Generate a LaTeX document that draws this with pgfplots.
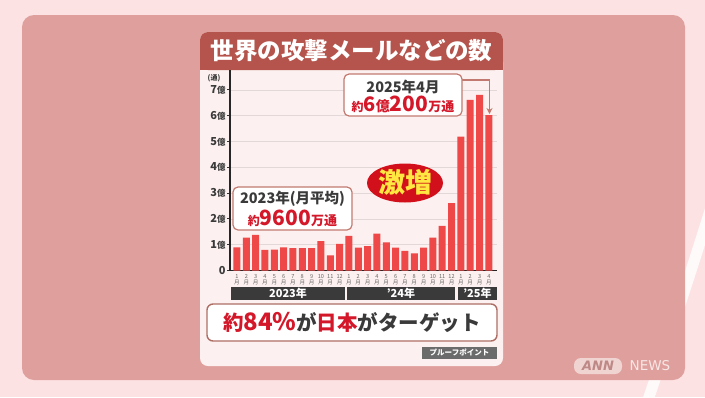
\documentclass[border=0pt]{standalone}
\usepackage{fontspec}
\setmainfont{Noto Sans CJK JP}
\newfontfamily\annfont{DejaVu Sans}
\usepackage{pgfplots}
\pgfplotsset{compat=1.18}
\usetikzlibrary{arrows.meta}
\definecolor{bgpink}{HTML}{FDE2E3}
\definecolor{panel}{HTML}{DFA09D}
\definecolor{card}{HTML}{FCF1F0}
\definecolor{banner}{HTML}{B5544C}
\definecolor{barred}{HTML}{EE4848}
\definecolor{txtred}{HTML}{D4182A}
\definecolor{dark}{HTML}{3A3A3A}
\definecolor{boxline}{HTML}{C27A70}
\definecolor{ellred}{HTML}{D2101C}
\definecolor{yel}{HTML}{FFE640}
\definecolor{gridc}{HTML}{E2D8D7}
\newcommand{\fs}[1]{\fontsize{#1}{#1}\selectfont}
\newcommand{\yl}[1]{\mbox{\bfseries\fs{11}#1{\fs{8.5}億}}}
\begin{document}
\begin{tikzpicture}
\begin{scope}[x=1pt,y=-1pt]
\path[use as bounding box] (0,0) rectangle (705,397);
\fill[bgpink] (0,0) rectangle (705,397);
\draw[white, line width=11pt, opacity=0.85] (715,195) .. controls (685,290) .. (648,400);
\fill[panel, rounded corners=12pt] (22,15) rectangle (685,380);
\fill[card, rounded corners=8pt] (200,32) rectangle (503,366);
\fill[banner, rounded corners=8pt] (200,32) rectangle (503,70);
\fill[banner] (200,55) rectangle (503,70);
\node[white, font=\bfseries\fs{23.5}] at (351.5,51) {世界の攻撃メールなどの数};
\node[dark, font=\bfseries\fs{7}] at (214,78) {(通)};
\end{scope}
\begin{axis}[
  at={(230pt,-270.5pt)}, anchor=south west,
  scale only axis, width=267pt, height=200.5pt,
  xmin=-0.75, xmax=27.87, ymin=0, ymax=7.77,
  axis x line=bottom, axis y line=left,
  axis line style={-, line width=1.1pt, black!85},
  ytick={0,1,...,7},
  yticklabels={\mbox{\bfseries\fs{11}0},\yl{1},\yl{2},\yl{3},\yl{4},\yl{5},\yl{6},\yl{7}},
  yticklabel style={font=\bfseries\fs{11}, text=dark, inner sep=1.2pt},
  ytick style={line width=0.8pt, black!80},
  tick align=outside, major tick length=3pt,
  ymajorgrids, grid style={gridc, line width=0.6pt},
  xtick={0,1,...,27},
  xticklabels={{1\\月},{2\\月},{3\\月},{4\\月},{5\\月},{6\\月},{7\\月},{8\\月},{9\\月},{10\\月},{11\\月},{12\\月},
               {1\\月},{2\\月},{3\\月},{4\\月},{5\\月},{6\\月},{7\\月},{8\\月},{9\\月},{10\\月},{11\\月},{12\\月},
               {1\\月},{2\\月},{3\\月},{4\\月}},
  xticklabel style={align=center, font=\fs{5.6}, text=black!60, inner sep=1pt},
  x tick style={draw=none},
  ybar, bar width=7pt,
  clip=false,
]
\addplot[fill=barred, draw=none] coordinates {
 (0,0.90) (1,1.27) (2,1.38) (3,0.80) (4,0.81) (5,0.90) (6,0.87) (7,0.87) (8,0.87) (9,1.14) (10,0.59) (11,1.03)
 (12,1.34) (13,0.89) (14,0.94) (15,1.43) (16,1.09) (17,0.89) (18,0.76) (19,0.66) (20,0.89) (21,1.27) (22,1.73) (23,2.61)
 (24,5.19) (25,6.61) (26,6.81) (27,6.02)};
\end{axis}
\begin{scope}[x=1pt,y=-1pt]
% year bands
\fill[dark] (231,287) rectangle (344.5,300);
\fill[dark] (347,287) rectangle (455,300);
\fill[dark] (458,287) rectangle (497,300);
\node[white, font=\bfseries\fs{11}] at (288,293.5) {2023年};
\node[white, font=\bfseries\fs{11}] at (401,293.5) {{\char"27}24年};
\node[white, font=\bfseries\fs{11}] at (477.5,293.5) {{\char"27}25年};
% 2023 box
\draw[boxline, fill=white, line width=1.2pt, rounded corners=5pt] (233,187) rectangle (352,230);
\node[dark, font=\bfseries\fs{14.5}] at (292.5,198.5) {2023年(月平均)};
\node[txtred, font=\bfseries] at (292.5,218.5) {{\fs{12}約}{\fs{21}9600}{\fs{13}万通}};
% 2025 box
\draw[boxline, line width=1.1pt] (462,80) -- (489.5,80) -- (489.5,108);
\draw[boxline, line width=1.1pt, -{Stealth[length=6pt,width=6pt]}] (489.5,104) -- (489.5,114);
\draw[boxline, fill=white, line width=1.2pt, rounded corners=5pt] (344,74) rectangle (462,116);
\node[dark, font=\bfseries\fs{14.5}] at (403,86.5) {2025年4月};
\node[txtred, font=\bfseries] at (403,104.5) {{\fs{12}約}{\fs{20}6}{\fs{14}億}{\fs{21}200}{\fs{13}万通}};
% ellipse
\fill[ellred] (405,183) ellipse [x radius=38, y radius=19.5];
\node[yel, font=\bfseries\fs{27}] at (405,182.5) {激増};
% bottom box
\draw[boxline!90!black, fill=white, line width=1.4pt, rounded corners=6pt] (207,304) rectangle (497,341);
\node[font=\bfseries\fs{20.5}] at (352,322.5) {\textcolor{txtred}{約{\fs{24}84\%}}\textcolor{dark}{が}\textcolor{txtred}{日本}\textcolor{dark}{がターゲット}};
% source
\fill[black!58] (422,347) rectangle (497,358.5);
\node[white, font=\bfseries\fs{7.5}] at (459.5,352.7) {プルーフポイント};
% ANN NEWS
\fill[white, opacity=0.55, rounded corners=7pt] (574,358) rectangle (622,374);
\node[panel!85!black, font=\annfont\bfseries\itshape\fs{13}] at (598,366) {ANN};
\node[white, opacity=0.75, font=\annfont\fs{13.5}] at (650,366) {NEWS};
\end{scope}
\end{tikzpicture}
\end{document}
